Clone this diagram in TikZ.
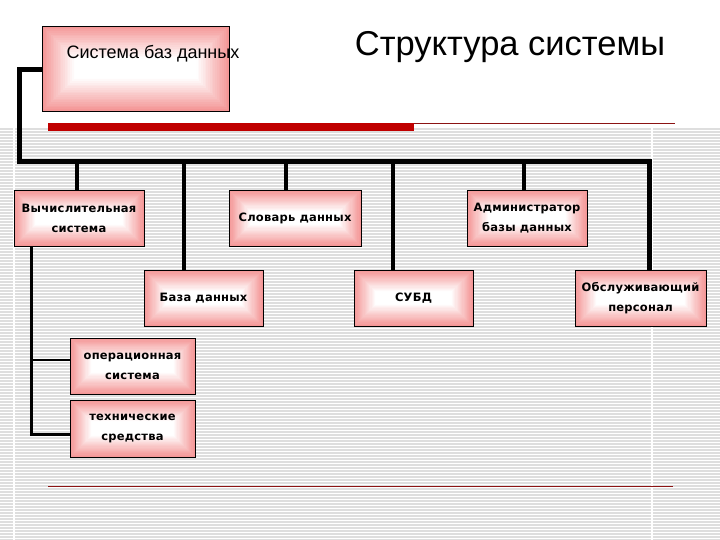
\documentclass[tikz,border=0pt]{standalone}
\usepackage{fontspec}
\setmainfont{Liberation Sans}
\newfontfamily\boxfont{DejaVu Sans}[LetterSpace=2]
\definecolor{edgepink}{RGB}{244,150,150}
\definecolor{barred}{RGB}{192,0,0}
\definecolor{thinred}{RGB}{140,20,20}
\definecolor{stripe}{RGB}{222,222,222}
\tikzset{
  gbox/.style={draw=black, line width=0.8pt, inner sep=0pt,
    path picture={
      \foreach \i in {0,...,24}{
        \pgfmathsetmacro\d{\i*#1}
        \pgfmathtruncatemacro\c{max(0,100-5.5*\i)}
        \fill[edgepink!\c!white] ([shift={(\d pt,\d pt)}]path picture bounding box.south west) rectangle ([shift={(-\d pt,-\d pt)}]path picture bounding box.north east);
      }}},
  lowbox/.style={gbox=1.17, minimum height=56pt, align=center,
    font=\boxfont\bfseries\fontsize{11.5}{20}\selectfont},
  bus/.style={line width=5pt, black, line join=miter},
  drop/.style={line width=4pt, black},
  sub/.style={line width=3pt, black},
}
\begin{document}
\begin{tikzpicture}[x=1pt,y=-1pt]
\useasboundingbox (0,0) rectangle (720,540);
\fill[white] (0,0) rectangle (720,540);
% background stripes
\foreach \y in {129,132,...,540} \draw[stripe, line width=1.3pt] (0,\y) -- (720,\y);
\draw[white, line width=1.6pt] (14,127) -- (14,540);
\draw[white, line width=1.6pt] (652,127) -- (652,540);
% rules
\draw[barred, line width=8pt] (48,127) -- (414,127);
\draw[thinred, line width=1.2pt] (414,123.5) -- (675,123.5);
\draw[thinred, line width=1.4pt] (48,486.5) -- (673,486.5);
% title
\node[anchor=base, font=\fontsize{34.5}{40}\selectfont, inner sep=0pt] (title) at (510,56) {Структура системы};
% boxes
\node[gbox=1.75, minimum width=187pt, minimum height=85pt] (top) at (135.5,68.5) {};
\node[anchor=base, font=\fontsize{18}{20}\selectfont, inner sep=0pt] (toptext) at (153,59) {Система баз данных};
\node[lowbox, minimum width=130pt] (vs) at (79,218) {Вычислительная\\система};
\node[lowbox, minimum width=132pt] (sl) at (295,218) {Словарь данных};
\node[lowbox, minimum width=120pt] (adm) at (527,218) {Администратор\\базы данных};
\node[lowbox, minimum width=119pt] (bd) at (203.5,298) {База данных};
\node[lowbox, minimum width=119pt] (subd) at (413.5,298) {СУБД};
\node[lowbox, minimum width=131pt] (ob) at (640.5,298) {Обслуживающий\\персонал};
\node[lowbox, minimum width=125pt] (os) at (132.5,366) {операционная\\система};
\node[lowbox, minimum width=125pt, minimum height=57pt] (tech) at (132.5,428.5) {технические\\средства};
% connectors
\coordinate (busL) at (19,162);
\draw[bus] ([yshift=-1.5pt]top.west) -| (busL) -| ([xshift=8.5pt]ob.north);
\foreach \n/\s in {vs/-2, sl/-9, adm/-3, bd/-19.5, subd/-20.5}
  \draw[drop] ([xshift=\s pt]\n.north) -- ([xshift=\s pt]\n.north |- busL);
\draw[sub] ([xshift=-48pt]vs.south) |- ([yshift=-5.5pt]tech.west);
\draw[sub, line width=2.2pt] ([yshift=6pt]os.west) -| ([xshift=-48pt]vs.south);
\end{tikzpicture}
\end{document}
